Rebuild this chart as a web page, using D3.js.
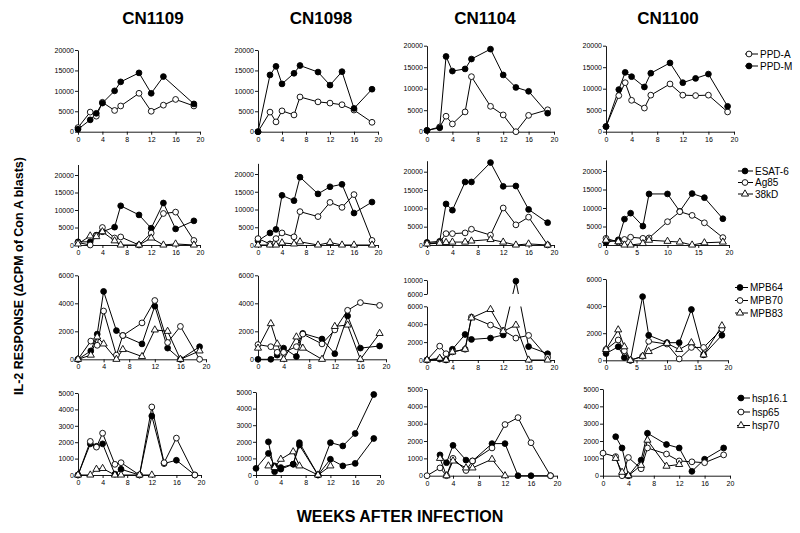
<!DOCTYPE html>
<html><head><meta charset="utf-8">
<script src="https://cdn.jsdelivr.net/npm/d3@7"></script>
<style>body{margin:0;background:#fff} svg{display:block}</style>
</head><body><svg id="c" width="800" height="533"></svg>
<script>
// ---------------- DATA ----------------
const weeks = [0, 2, 3, 4, 6, 7, 10, 12, 14, 16, 19];
const patients = ["CN1109", "CN1098", "CN1104", "CN1100"];

// Row 1: PPD
const ppdA_CN1109 = [1000, 4800, 3800, 7200, 5200, 6300, 9400, 5000, 6500, 7900, 6300];
const ppdM_CN1109 = [600, 2900, 4500, 7000, 10000, 12200, 14400, 9400, 13500, null, 6800];
const ppdA_CN1098 = [0, 4800, 2400, 5100, 4100, 8500, 7300, 7000, 6600, 5300, 2300];
const ppdM_CN1098 = [0, 13900, 16000, 11700, 14300, 16200, 14600, 11400, 14700, 5700, 10400];
const ppdA_CN1104 = [300, 1100, 3600, 1800, 4600, 12800, 5900, 3900, 0, 3800, 5100];
const ppdM_CN1104 = [300, 900, 17500, 14100, 14600, 16900, 19200, 13200, 10300, 9400, 4300];
const ppdA_CN1100 = [1200, 8400, 11400, 7300, 5500, 8500, 11100, 8500, 8400, 8500, 4600];
const ppdM_CN1100 = [1200, 9800, 13800, 12800, 10400, 13600, 16000, 11400, 12400, 13400, 5900];

// Row 2: ESAT-6 / Ag85 / 38kD
const esat6_CN1109 = [900, 900, 2800, 3800, 5100, 11200, 8600, 4800, 12000, 4600, 6900];
const ag85_CN1109  = [700, 0, 2700, 5000, 2000, 2300, 0, 3400, 9000, 9400, 1300];
const k38_CN1109   = [300, 2600, 2400, 3800, 1200, 0, 0, 2000, 0, 300, 0];
const esat6_CN1098 = [1200, 3400, 4400, 14000, 12500, 19100, 14400, 16400, 17100, 9000, 12100];
const ag85_CN1098  = [1800, 300, 1800, 3400, 2300, 9400, 8000, 12000, 10600, 14200, 1300];
const k38_CN1098   = [0, 0, 0, 600, 300, 900, 0, 700, 0, 0, 0];
const esat6_CN1104 = [700, 1000, 11200, 9500, 17200, 17200, 22500, 16000, 16100, 9700, 6100];
const ag85_CN1104  = [400, 700, 3100, 3100, 3300, 4300, 2700, 10100, 5500, 7600, 0];
const k38_CN1104   = [300, 500, 700, 800, 800, 1100, 1500, 800, 0, 300, 0];
const esat6_CN1100 = [700, 1400, 7000, 8600, 5100, 13800, 13800, 9100, 13900, 12800, 7100];
const ag85_CN1100  = [1800, 800, 1500, 2100, 1800, 1900, 6300, 9000, 8000, 6000, 2000];
const k38_CN1100   = [1300, 900, 0, 0, 400, 1300, 1000, 800, 0, 600, 800];

// Row 3: MPB64 / MPB70 / MPB83
const mpb64_CN1109 = [0, 600, 1800, 4850, 2050, 1700, 1100, 3800, 800, 0, 900];
const mpb70_CN1109 = [0, 1300, 1000, 3450, 300, 1700, 2600, 4200, 1200, 2350, 0];
const mpb83_CN1109 = [0, 300, 1600, 1100, 0, 700, 200, 2100, 2000, 0, 600];
const mpb64_CN1098 = [0, 0, 300, 800, 200, 1850, 1450, 400, 3100, 800, 950];
const mpb70_CN1098 = [1050, 900, 500, 500, 900, 1800, 1100, 2100, 3500, 4050, 3850];
const mpb83_CN1098 = [800, 2550, 1100, 0, 1600, 800, 0, 2350, 2450, 0, 1850];
const mpb64_CN1104 = [0, 100, 0, 1200, 2850, 2300, 2450, 2800, 9700, 1500, 700];
const mpb70_CN1104 = [0, 1550, 700, 900, 1200, 4800, 3900, 3300, 2450, 2750, 300];
const mpb83_CN1104 = [0, 200, 0, 900, 1200, 4700, 5650, 3200, 3900, 0, 0];
const mpb64_CN1100 = [500, 1000, 200, 0, 4700, 1850, 1300, 1300, 3750, 400, 1850];
const mpb70_CN1100 = [800, 1500, 700, 0, 300, 1400, 1200, 100, 950, 950, 2300];
const mpb83_CN1100 = [800, 2250, 1000, 0, 300, 650, 1250, 800, 1300, 400, 2550];

// Row 4: hsp16.1 / hsp65 / hsp70
const hsp16_CN1109 = [0, 1900, 1750, 1900, 50, 350, 0, 3600, 700, 900, 0];
const hsp65_CN1109 = [0, 2050, 1700, 2550, 650, 750, 0, 4150, 750, 2250, 0];
const hsp70_CN1109 = [0, 0, 350, 400, 0, 0, 0, 0, null, null, null];
const hsp16_CN1098 = [null, 2000, 200, 350, 650, 1950, 0, 950, 550, 700, 2200];
const hsp65_CN1098 = [400, 1300, 550, 450, 650, 1800, 0, 1950, 1750, 2500, 4850];
const hsp70_CN1098 = [null, 550, 450, 950, 1400, 550, 0, 550, null, null, null];
const hsp16_CN1104 = [null, 1200, 750, 1750, 900, 850, 1850, 1850, 0, 0, 0];
const hsp65_CN1104 = [0, 450, 0, 1000, 300, 850, 1600, 2950, 3350, 1900, 0];
const hsp70_CN1104 = [null, 1000, 0, 850, 450, 450, 950, 0, null, null, null];
const hsp16_CN1100 = [null, 2250, 1600, 0, 900, 2450, 1800, 1600, 250, 950, 1600];
const hsp65_CN1100 = [1300, 1100, 0, 1050, 400, 1600, 1250, 850, 800, 750, 1200];
const hsp70_CN1100 = [null, 1000, 200, 0, 600, 2050, 550, 650, null, null, null];

// Legends / series names per row (in legend order)
const row1Names = ["PPD-A", "PPD-M"];
const row2Names = ["ESAT-6", "Ag85", "38kD"];
const row3Names = ["MPB64", "MPB70", "MPB83"];
const row4Names = ["hsp16.1", "hsp65", "hsp70"];
const row1Marks = ["open", "filled"];
const row234Marks = ["filled", "open", "tri"];

// tick values
const xTicksA = [0, 4, 8, 12, 16, 20];
const xTicksB = [0, 5, 10, 15, 20];
const yTicksRow12 = [0, 5000, 10000, 15000, 20000];
const yTicksRow3 = [0, 2000, 4000, 6000];
const yTicksRow3Upper = [6000, 10000];
const yTicksRow4 = [0, 1000, 2000, 3000, 4000, 5000];

const xTitle = "WEEKS AFTER INFECTION";
const yTitle = "IL-2 RESPONSE (\u0394CPM of Con A blasts)";

// ---------------- LAYOUT ----------------
const rows = [
  { names: row1Names, marks: row1Marks, yTicks: yTicksRow12,
    series: [[ppdA_CN1109, ppdM_CN1109], [ppdA_CN1098, ppdM_CN1098], [ppdA_CN1104, ppdM_CN1104], [ppdA_CN1100, ppdM_CN1100]] },
  { names: row2Names, marks: row234Marks, yTicks: yTicksRow12,
    series: [[esat6_CN1109, ag85_CN1109, k38_CN1109], [esat6_CN1098, ag85_CN1098, k38_CN1098], [esat6_CN1104, ag85_CN1104, k38_CN1104], [esat6_CN1100, ag85_CN1100, k38_CN1100]] },
  { names: row3Names, marks: row234Marks, yTicks: yTicksRow3,
    series: [[mpb64_CN1109, mpb70_CN1109, mpb83_CN1109], [mpb64_CN1098, mpb70_CN1098, mpb83_CN1098], [mpb64_CN1104, mpb70_CN1104, mpb83_CN1104], [mpb64_CN1100, mpb70_CN1100, mpb83_CN1100]] },
  { names: row4Names, marks: row234Marks, yTicks: yTicksRow4,
    series: [[hsp16_CN1109, hsp65_CN1109, hsp70_CN1109], [hsp16_CN1098, hsp65_CN1098, hsp70_CN1098], [hsp16_CN1104, hsp65_CN1104, hsp70_CN1104], [hsp16_CN1100, hsp65_CN1100, hsp70_CN1100]] }
];

// panel boxes: x0 (week 0), x1 (week 20), y0 (value 0), yT (pixel of tMax), tMax, dMax (axis top)
const boxes = [
  [{x0:78,x1:200,y0:131.7,yT:50,tMax:20000,dMax:20000},{x0:258,x1:378,y0:131.7,yT:50,tMax:20000,dMax:20000},
   {x0:427,x1:554,y0:131.7,yT:45.7,tMax:20000,dMax:20000},{x0:606,x1:734,y0:131.7,yT:45.7,tMax:20000,dMax:20000}],
  [{x0:78,x1:200,y0:245,yT:175,tMax:20000,dMax:23000},{x0:258,x1:378,y0:245,yT:174,tMax:20000,dMax:23000},
   {x0:427,x1:554,y0:245,yT:171.7,tMax:20000,dMax:23000},{x0:606,x1:729,y0:245,yT:171,tMax:20000,dMax:23000,xb:true}],
  [{x0:78,x1:206,y0:359.3,yT:275.3,tMax:6000,dMax:6000},{x0:258,x1:386,y0:359.3,yT:275.3,tMax:6000,dMax:6000},
   {x0:427,x1:554,y0:360,yT:306.3,tMax:6000,dMax:6000,broken:{y6:294,y10:280}},{x0:606,x1:728,y0:360.3,yT:279,tMax:6000,dMax:6000,xb:true}],
  [{x0:78,x1:201,y0:475,yT:393,tMax:5000,dMax:5000},{x0:256,x1:380,y0:475,yT:392,tMax:5000,dMax:5000},
   {x0:427,x1:557,y0:475.7,yT:389,tMax:5000,dMax:5000},{x0:603,x1:730,y0:475.7,yT:389,tMax:5000,dMax:5000}]
];
const titleX = [153, 321, 485, 668];
const legends = [
  {lx0:745, lx1:758, mx:749, tx:760, ys:[54, 66]},
  {lx0:738, lx1:753, mx:745, tx:755, ys:[171, 182.5, 194]},
  {lx0:735, lx1:748, mx:740, tx:750, ys:[287.5, 300.5, 313]},
  {lx0:737, lx1:750, mx:741, tx:752, ys:[398, 412, 425.5]}
];
// marker style exceptions seen in the reference (hsp65 drawn solid for CN1098)
const markOverride = {"3-1-1": "filled"};

const FONT = '"Liberation Sans", Arial, Helvetica, sans-serif';
const svg = d3.select("#c").attr("font-family", FONT);

function drawMarker(g, type, x, y) {
  if (type === "tri") {
    g.append("path").attr("d", d3.symbol(d3.symbolTriangle, 22)())
      .attr("transform", `translate(${x},${y})`)
      .attr("fill", "#fff").attr("stroke", "#000").attr("stroke-width", 0.9);
  } else {
    g.append("circle").attr("cx", x).attr("cy", y).attr("r", 2.9)
      .attr("fill", type === "filled" ? "#000" : "#fff")
      .attr("stroke", "#000").attr("stroke-width", 0.9);
  }
}
function styleAxis(g) {
  g.attr("font-size", 7).attr("font-family", FONT);
  g.selectAll("path,line").attr("stroke", "#000").attr("stroke-width", 0.9);
  g.selectAll("text").attr("fill", "#000");
}

// column titles
svg.selectAll("text.ct").data(patients).join("text").attr("class", "ct")
  .attr("x", (d, i) => titleX[i]).attr("y", 24).attr("text-anchor", "middle")
  .attr("font-weight", "bold").attr("font-size", 17).text(d => d);

// axis titles
svg.append("text").attr("x", 400).attr("y", 522).attr("text-anchor", "middle")
  .attr("font-weight", "bold").attr("font-size", 16).text(xTitle);
svg.append("text").attr("transform", "translate(23,276) rotate(-90)").attr("text-anchor", "middle")
  .attr("font-weight", "bold").attr("font-size", 12.5).text(yTitle);

let clipId = 0;
rows.forEach((row, ri) => {
  row.series.forEach((panelSeries, ci) => {
    const b = boxes[ri][ci];
    const g = svg.append("g");
    const x = d3.scaleLinear().domain([0, 20]).range([b.x0, b.x1]);
    const yPerUnit = (b.yT - b.y0) / b.tMax;
    const y = d3.scaleLinear().domain([0, b.dMax]).range([b.y0, b.y0 + yPerUnit * b.dMax]);
    let yf = v => y(v);
    let yUpper = null;
    if (b.broken) {
      yUpper = d3.scaleLinear().domain([6000, 10000]).range([b.broken.y6, b.broken.y10]);
      yf = v => v <= 6000 ? y(v) : yUpper(v);
    }
    // axes
    const xa = g.append("g").attr("transform", `translate(0,${b.y0})`)
      .call(d3.axisBottom(x).tickValues(b.xb ? xTicksB : xTicksA).tickSize(3).tickSizeOuter(0).tickPadding(2));
    styleAxis(xa);
    const ya = g.append("g").attr("transform", `translate(${b.x0},0)`)
      .call(d3.axisLeft(y).tickValues(row.yTicks).tickSize(3).tickSizeOuter(0).tickPadding(1).tickFormat(d3.format("d")));
    styleAxis(ya);
    if (yUpper) {
      const yu = g.append("g").attr("transform", `translate(${b.x0},0)`)
        .call(d3.axisLeft(yUpper).tickValues(yTicksRow3Upper).tickSize(3).tickSizeOuter(0).tickPadding(1).tickFormat(d3.format("d")));
      styleAxis(yu);
    }
    // lines
    const line = d3.line().x(d => x(d[0])).y(d => yf(d[1]));
    const pts = panelSeries.map(arr => weeks.map((w, i) => [w, arr[i]]).filter(d => d[1] != null));
    pts.forEach(p => {
      if (b.broken) {
        const idLo = "clip" + (clipId++), idHi = "clip" + (clipId++);
        const defs = g.append("defs");
        defs.append("clipPath").attr("id", idLo).append("rect")
          .attr("x", b.x0 - 10).attr("y", b.yT + 0.3).attr("width", b.x1 - b.x0 + 20).attr("height", 80);
        defs.append("clipPath").attr("id", idHi).append("rect")
          .attr("x", b.x0 - 10).attr("y", b.broken.y10 - 10).attr("width", b.x1 - b.x0 + 20).attr("height", b.broken.y6 - b.broken.y10 + 10);
        [idLo, idHi].forEach(id => g.append("path").datum(p).attr("d", line).attr("clip-path", `url(#${id})`)
          .attr("fill", "none").attr("stroke", "#000").attr("stroke-width", 1));
      } else {
        g.append("path").datum(p).attr("d", line)
          .attr("fill", "none").attr("stroke", "#000").attr("stroke-width", 1);
      }
    });
    // markers
    pts.forEach((p, si) => {
      const type = markOverride[`${ri}-${ci}-${si}`] || row.marks[si];
      p.forEach(d => drawMarker(g, type, x(d[0]), yf(d[1])));
    });
  });
  // legend
  const L = legends[ri];
  const lg = svg.append("g");
  row.names.forEach((name, si) => {
    const yy = L.ys[si];
    lg.append("line").attr("x1", L.lx0).attr("x2", L.lx1).attr("y1", yy).attr("y2", yy)
      .attr("stroke", "#000").attr("stroke-width", 1);
    drawMarker(lg, row.marks[si], L.mx, yy);
    lg.append("text").attr("x", L.tx).attr("y", yy + 3.6).attr("font-size", 10).text(name);
  });
});
</script></body></html>
